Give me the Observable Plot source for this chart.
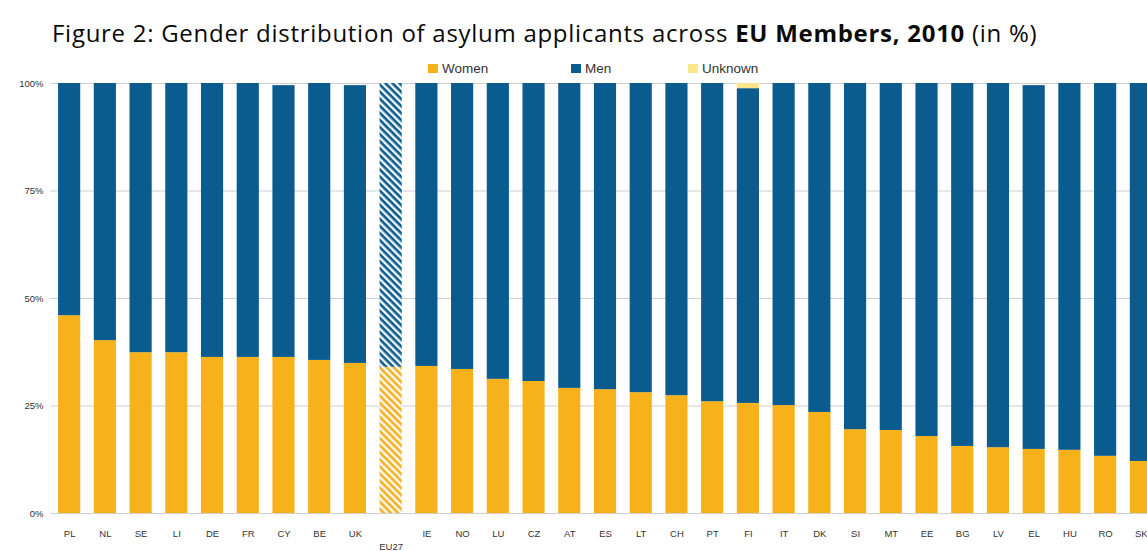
<!DOCTYPE html>
<html>
<head>
<meta charset="utf-8">
<script src="https://cdn.jsdelivr.net/npm/d3@7"></script>
<script src="https://cdn.jsdelivr.net/npm/@observablehq/plot@0.6"></script>
<style>
  html, body { margin: 0; padding: 0; background: #fff; overflow: hidden; width: 1147px; height: 551px; }
  #wrap { position: relative; width: 1147px; height: 551px; overflow: hidden; }
  #title { position: absolute; left: 52px; top: 16px; font-family: "Open Sans", sans-serif; font-size: 24px; color: #0a0a0a; white-space: nowrap; }
  #title b { font-weight: 700; }
  #legend { position: absolute; top: 62px; left: 0; font-family: "Liberation Sans", Arial, sans-serif; font-size: 13.5px; color: #333; }
  .item { position: absolute; white-space: nowrap; line-height: 14px; }
  .sw { display: inline-block; width: 10px; height: 9px; margin-right: 4px; }
  #chart { position: absolute; left: 0; top: 0; }
  #chart svg { max-width: none !important; }
</style>
</head>
<body>
<div id="wrap">
  <div id="chart"></div>
  <div id="title">Figure 2: Gender distribution of asylum applicants across <b>EU Members, 2010</b> (in %)</div>
  <div id="legend"></div>
</div>
<script>
const countries = ["PL","NL","SE","LI","DE","FR","CY","BE","UK","EU27","IE","NO","LU","CZ","AT","ES","LT","CH","PT","FI","IT","DK","SI","MT","EE","BG","LV","EL","HU","RO","SK"];
const women = [46.0,40.2,37.4,37.4,36.3,36.3,36.3,35.6,34.9,34.0,34.2,33.5,31.2,30.7,29.1,28.8,28.1,27.4,26.0,25.6,25.1,23.5,19.5,19.3,17.9,15.6,15.3,14.9,14.7,13.3,12.1];
const men = [54.0,59.8,62.6,62.6,63.7,63.7,63.2,64.4,64.6,66.0,65.8,66.5,68.8,69.3,70.9,71.2,71.9,72.6,74.0,73.2,74.9,76.5,80.5,80.7,82.1,84.4,84.7,84.6,85.3,86.7,87.9];
const unknown = [0,0,0,0,0,0,0,0,0,0,0,0,0,0,0,0,0,0,0,1.2,0,0,0,0,0,0,0,0,0,0,0];
const series = ["Women","Men","Unknown"];
const seriesColors = ["#F7B21B","#0A5B8E","#FBE78A"];
const yTicks = [0,25,50,75,100];
const highlight = "EU27";

const colorOf = Object.fromEntries(series.map((s,i)=>[s, seriesColors[i]]));
const patternOf = {Women: "url(#hatchWomen)", Men: "url(#hatchMen)", Unknown: "url(#hatchUnknown)"};
const values = {Women: women, Men: men, Unknown: unknown};
const data = [];
countries.forEach((c,i)=>{
  series.forEach(s=>{ data.push({country: c, sex: s, value: values[s][i]}); });
});

const plot = Plot.plot({
  width: 1170,
  height: 551,
  marginTop: 83,
  marginBottom: 38,
  marginLeft: 50,
  marginRight: 5,
  style: {fontFamily: "'Liberation Sans', Arial, sans-serif", color: "#333", background: "#fff", maxWidth: "none"},
  x: {domain: countries, padding: 0.38, round: false, range: [44.5, 1165.5], label: null},
  y: {domain: [0,100], label: null},
  color: {type: "identity"},
  marks: [
    Plot.ruleY(yTicks, {stroke: "#cfcfcf", strokeWidth: 1}),
    Plot.barY(data, Plot.stackY({
      x: "country",
      y: "value",
      z: "sex",
      order: series,
      fill: d => d.country === highlight ? patternOf[d.sex] : colorOf[d.sex]
    })),
    Plot.axisY({ticks: yTicks, tickFormat: d => d + "%", tickSize: 0, tickPadding: 7, fontSize: 9.5}),
    Plot.axisX({tickSize: 0, tickPadding: 14, fontSize: 9.5, lineHeight: 1.4,
      tickFormat: d => d === highlight ? "\n" + d : d})
  ]
});

const ns = "http://www.w3.org/2000/svg";
const defs = document.createElementNS(ns, "defs");
function addPattern(id, color) {
  const p = document.createElementNS(ns, "pattern");
  p.setAttribute("id", id);
  p.setAttribute("patternUnits", "userSpaceOnUse");
  p.setAttribute("width", "5");
  p.setAttribute("height", "5");
  p.setAttribute("patternTransform", "rotate(45)");
  const bg = document.createElementNS(ns, "rect");
  bg.setAttribute("width", "5"); bg.setAttribute("height", "5"); bg.setAttribute("fill", "#f4f8fb");
  const ln = document.createElementNS(ns, "rect");
  ln.setAttribute("width", "5"); ln.setAttribute("height", "2.6"); ln.setAttribute("fill", color);
  p.appendChild(bg); p.appendChild(ln);
  defs.appendChild(p);
}
addPattern("hatchWomen", colorOf.Women);
addPattern("hatchMen", colorOf.Men);
addPattern("hatchUnknown", colorOf.Unknown);
plot.insertBefore(defs, plot.firstChild);
plot.style.maxWidth = "none";
document.getElementById("chart").appendChild(plot);

// fit title to the reference's width
const title = document.getElementById("title");
const targetW = 985;
const w = title.getBoundingClientRect().width;
const n = title.textContent.length;
title.style.letterSpacing = ((targetW - w) / n).toFixed(2) + "px";

const legendPos = [428, 571, 688];
const legend = document.getElementById("legend");
series.forEach((s,i)=>{
  const it = document.createElement("div");
  it.className = "item";
  it.style.left = legendPos[i] + "px";
  it.innerHTML = `<span class="sw" style="background:${colorOf[s]}"></span>${s}`;
  legend.appendChild(it);
});
</script>
</body>
</html>
